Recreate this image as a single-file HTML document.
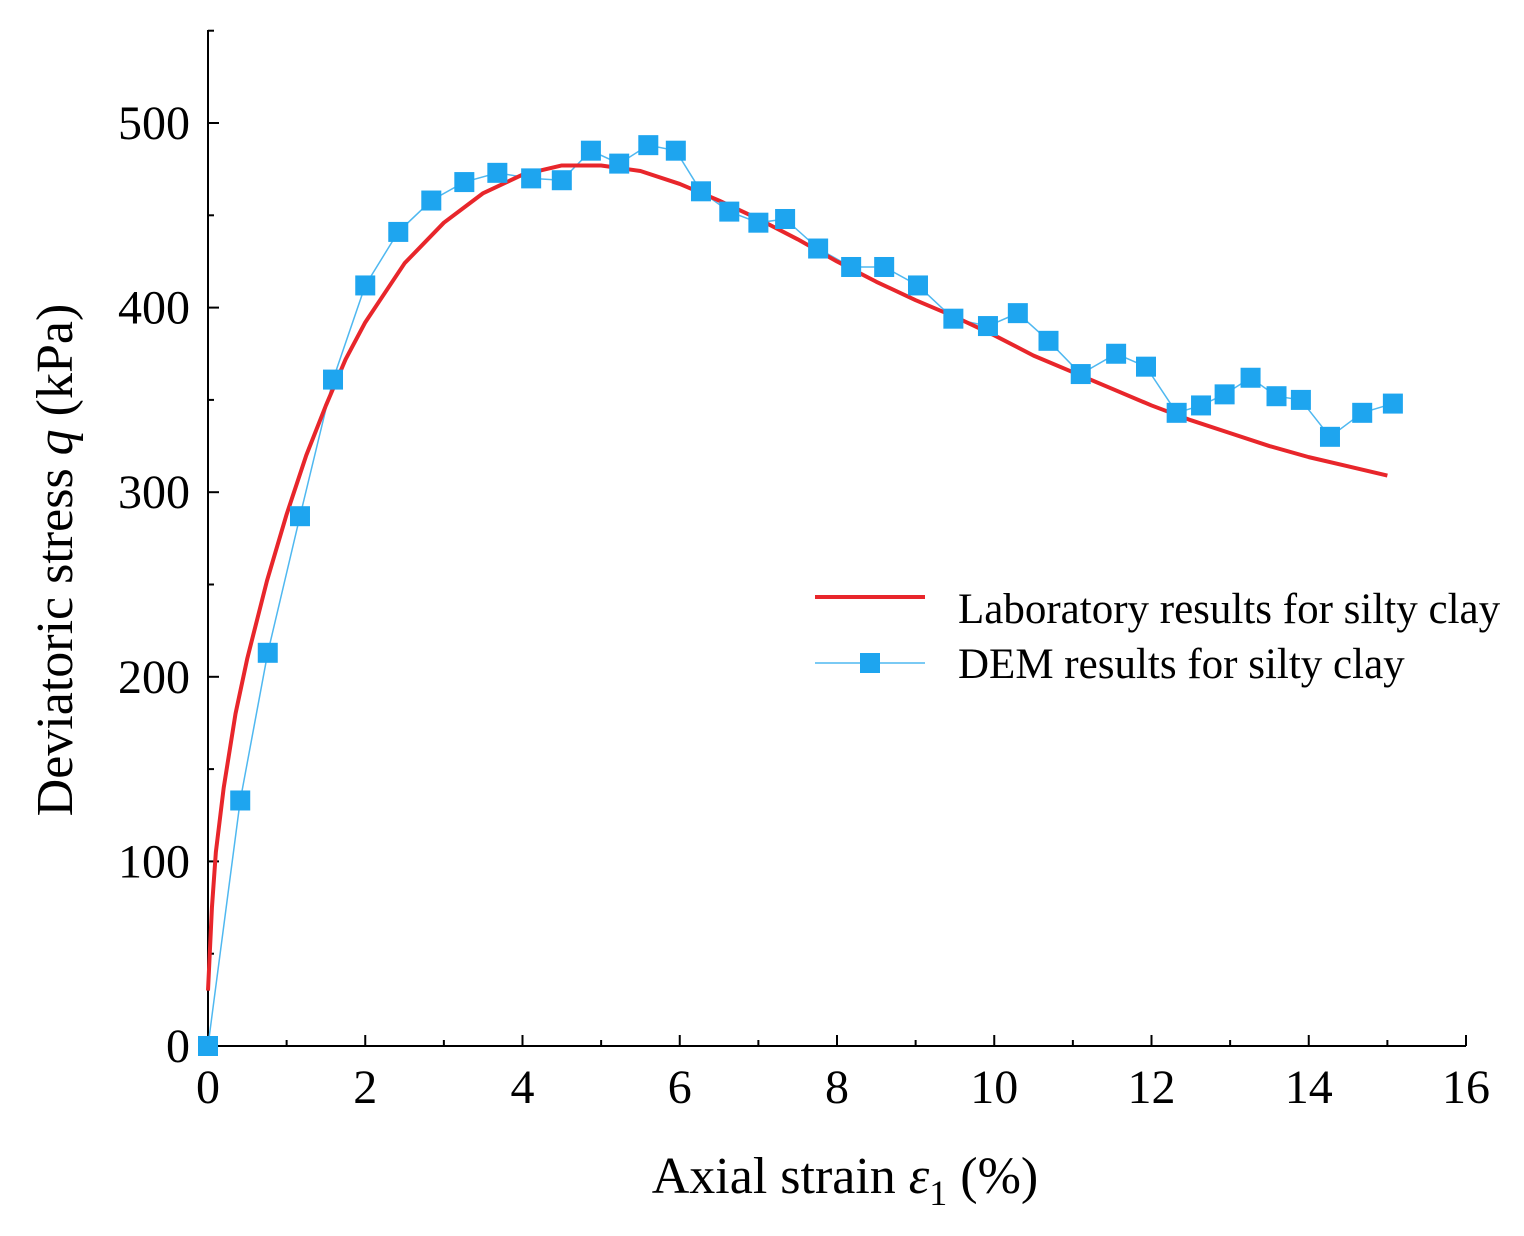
<!DOCTYPE html>
<html><head><meta charset="utf-8"><style>
html,body{margin:0;padding:0;background:#fff;}
svg{display:block;font-family:"Liberation Serif",serif;}
</style></head><body>
<svg id="chart" width="1524" height="1236" viewBox="0 0 1524 1236">
<g id="axes"></g><g id="series"></g>
<g>
<line x1="815" y1="597" x2="925" y2="597" stroke="#e8262b" stroke-width="4"/>
<text x="958" y="623" font-size="43">Laboratory results for silty clay</text>
<line x1="815" y1="663" x2="925" y2="663" stroke="#4fb8f0" stroke-width="1.5"/>
<rect x="860" y="653" width="20" height="20" fill="#1ea5ef"/>
<text x="958" y="678" font-size="43">DEM  results for silty clay</text>
</g>
<text x="845" y="1193" font-size="52" text-anchor="middle">Axial  strain  <tspan font-style="italic">ε</tspan><tspan font-size="36" dy="12">1</tspan><tspan dy="-12"> (%)</tspan></text>
<text transform="translate(72,560) rotate(-90)" font-size="52" text-anchor="middle">Deviatoric  stress <tspan font-style="italic">q</tspan>  (kPa)</text>
</svg>
<script>
const xTicks=[0,2,4,6,8,10,12,14,16];
const yTicks=[0,100,200,300,400,500];
const demX=[0,0.41,0.76,1.17,1.59,2.0,2.42,2.84,3.26,3.68,4.11,4.5,4.87,5.23,5.6,5.95,6.27,6.63,7.0,7.34,7.76,8.18,8.6,9.03,9.48,9.92,10.3,10.69,11.1,11.55,11.93,12.32,12.63,12.93,13.26,13.59,13.9,14.27,14.68,15.07];
const demY=[0,133,213,287,361,412,441,458,468,473,470,469,485,478,488,485,463,452,446,448,432,422,422,412,394,390,397,382,364,375,368,343,347,353,362,352,350,330,343,348];
const labX=[0,0.05,0.1,0.2,0.35,0.5,0.75,1,1.25,1.5,1.75,2,2.5,3,3.5,4,4.5,5,5.5,6,6.5,7,7.5,8,8.5,9,9.5,10,10.5,11,11.5,12,12.5,13,13.5,14,14.5,15];
const labY=[30,75,105,140,180,210,252,288,320,347,372,392,424,446,462,472,477,477,474,467,458,448,437,425,414,404,395,385,374,365,356,347,339,332,325,319,314,309];
const X=v=>208+v*(1466-208)/16;
const Y=v=>1046-v*(1046-123)/500;
const NS="http://www.w3.org/2000/svg";
function mk(tag,attrs,parent){const e=document.createElementNS(NS,tag);for(const k in attrs)e.setAttribute(k,attrs[k]);parent.appendChild(e);return e;}
const ax=document.getElementById('axes'),se=document.getElementById('series');
let e=mk('line',{x1:X(0),y1:Y(0),x2:X(16),y2:Y(0),stroke:'#000','stroke-width':2},ax);


e=mk('line',{x1:X(0),y1:30,x2:X(0),y2:Y(0),stroke:'#000','stroke-width':2},ax);


for(let v=0;v<=16;v++){const major=v%2===0;
 e=mk('line',{x1:X(v),y1:Y(0),x2:X(v),y2:Y(0)-(major?11:6),stroke:'#000','stroke-width':2},ax);
 
 }
xTicks.forEach(v=>{e=mk('text',{x:X(v),y:1103,'font-size':48,'text-anchor':'middle'},ax);e.textContent=v;
 
 });
for(let v=0;v<=550;v+=50){const major=v%100===0;
 e=mk('line',{x1:X(0),y1:Y(v),x2:X(0)+(major?11:6),y2:Y(v),stroke:'#000','stroke-width':2},ax);
 
 }
yTicks.forEach(v=>{e=mk('text',{x:190,y:Y(v)+16,'font-size':48,'text-anchor':'end'},ax);e.textContent=v;
 
 });
e=mk('polyline',{points:demX.map((x,i)=>X(x)+','+Y(demY[i])).join(' '),fill:'none',stroke:'#4fb8f0','stroke-width':1.5},se);


e=mk('polyline',{points:labX.map((x,i)=>X(x)+','+Y(labY[i])).join(' '),fill:'none',stroke:'#e8262b','stroke-width':4,'stroke-linejoin':'round'},se);


demX.forEach((x,i)=>{e=mk('rect',{x:X(x)-10,y:Y(demY[i])-10,width:20,height:20,fill:'#1ea5ef'},se);
 
 });
</script>
</body></html>
